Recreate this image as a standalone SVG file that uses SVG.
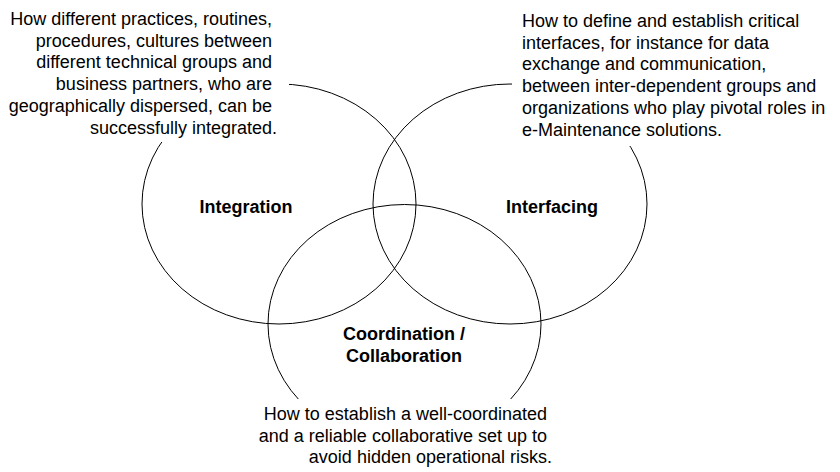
<svg xmlns="http://www.w3.org/2000/svg" width="840" height="472" viewBox="0 0 840 472">
  <style>
    .ring { fill: none; stroke: #000; stroke-width: 1; }
    .label { font-family: "Liberation Sans", Arial, sans-serif; font-size: 18px; font-weight: bold; fill: #000; text-anchor: middle; }
    .desc { font-family: "Liberation Sans", Arial, sans-serif; font-size: 18px; fill: #000; }
    .end { text-anchor: end; }
    .start { text-anchor: start; }
  </style>
  <defs>
    <mask id="textGaps" maskUnits="userSpaceOnUse" x="0" y="0" width="840" height="472">
      <rect x="0" y="0" width="840" height="472" fill="#fff"/>
      <rect x="0" y="0" width="289" height="142" fill="#000"/>
      <rect x="512" y="0" width="328" height="146" fill="#000"/>
      <rect x="250" y="399" width="350" height="73" fill="#000"/>
    </mask>
  </defs>
  <rect x="0" y="0" width="840" height="472" fill="#fff"/>

  <g id="node-integration">
    <ellipse class="ring" cx="279" cy="204" rx="137" ry="120" mask="url(#textGaps)"/>
    <text class="label" x="246" y="213">Integration</text>
    <text class="desc end" x="277">
      <tspan x="277" y="25">How different practices, routines,</tspan>
      <tspan x="277" y="46.7">procedures, cultures between</tspan>
      <tspan x="277" y="68.4">different technical groups and</tspan>
      <tspan x="277" y="90.1">business partners, who are</tspan>
      <tspan x="277" y="111.8">geographically dispersed, can be</tspan>
      <tspan x="277" y="133.5">successfully integrated.</tspan>
    </text>
  </g>

  <g id="node-interfacing">
    <ellipse class="ring" cx="510" cy="204" rx="137" ry="120" mask="url(#textGaps)"/>
    <text class="label" x="552" y="213">Interfacing</text>
    <text class="desc start" x="522">
      <tspan x="522" y="27">How to define and establish critical</tspan>
      <tspan x="522" y="48.7">interfaces, for instance for data</tspan>
      <tspan x="522" y="70.4">exchange and communication,</tspan>
      <tspan x="522" y="92.1">between inter-dependent groups and</tspan>
      <tspan x="522" y="113.8">organizations who play pivotal roles in</tspan>
      <tspan x="522" y="135.5">e-Maintenance solutions.</tspan>
    </text>
  </g>

  <g id="node-coordination">
    <ellipse class="ring" cx="404.5" cy="324" rx="136.5" ry="119.5" mask="url(#textGaps)"/>
    <text class="label" x="404" y="340">Coordination /</text>
    <text class="label" x="404" y="362">Collaboration</text>
    <text class="desc end" x="552">
      <tspan x="552" y="420">How to establish a well-coordinated</tspan>
      <tspan x="552" y="441.7">and a reliable collaborative set up to</tspan>
      <tspan x="552" y="463.4">avoid hidden operational risks.</tspan>
    </text>
  </g>

  <g id="connectors"></g>
</svg>
